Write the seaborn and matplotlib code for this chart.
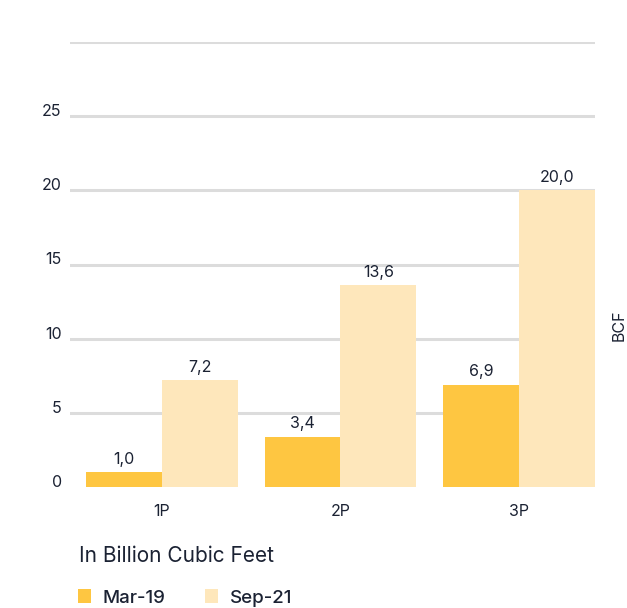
import matplotlib
matplotlib.use("Agg")
import matplotlib.pyplot as plt
from matplotlib.patches import Rectangle
import seaborn as sns
import pandas as pd

categories = ["1P", "2P", "3P"]
periods = ["Mar-19", "Sep-21"]
mar19 = [1.0, 3.4, 6.9]
sep21 = [7.2, 13.6, 20.0]
y_ticks = [0, 5, 10, 15, 20, 25]
colors = ["#FEC641", "#FEE7BB"]

sns.set_theme(style="white")
plt.rcParams["font.family"] = ["Inter", "DejaVu Sans"]

text_color = "#1B2233"
grid_color = "#DCDCDC"

df = pd.DataFrame({
    "category": categories * 2,
    "period": [periods[0]] * 3 + [periods[1]] * 3,
    "value": mar19 + sep21,
})

fig = plt.figure(figsize=(6.27, 6.08), dpi=100)
ax = fig.add_axes([70 / 627, 1 - 487 / 608, 525 / 627, 445 / 608])

sns.barplot(data=df, x="category", y="value", hue="period", order=categories,
            hue_order=periods, palette=colors, width=0.85, errorbar=None,
            saturation=1, linewidth=0, legend=False, ax=ax)

ax.set_ylim(0, 30)
ax.set_xlim(-0.515, 2.426)
for v in [5, 10, 15, 20, 25, 30]:
    ax.axhline(v, color=grid_color, linewidth=2.2, zorder=0)
ax.set_axisbelow(True)

for container in ax.containers:
    labels = [f"{b.get_height():.1f}".replace(".", ",") for b in container]
    ax.bar_label(container, labels=labels, padding=4, fontsize=11.5,
                 color=text_color)

ax.set_yticks(y_ticks)
ax.set_yticklabels([str(t) for t in y_ticks])
for lbl in ax.get_yticklabels():
    lbl.set_verticalalignment("baseline")
ax.tick_params(axis="y", length=0, pad=6, labelsize=11.5, labelcolor=text_color)
ax.tick_params(axis="x", length=0, pad=12, labelsize=11.5, labelcolor=text_color)
ax.set_xlabel("")
ax.set_ylabel("")
for s in ax.spines.values():
    s.set_visible(False)

fig.text(612 / 627, 1 - 325 / 608, "BCF", rotation=90, ha="left", va="center",
         fontsize=11.5, color=text_color)

fig.text(79 / 627, 1 - 556 / 608, "In Billion Cubic Feet", ha="left",
         va="center", fontsize=15, color=text_color)

handles = [Rectangle((0, 0), 1, 1, facecolor=c, edgecolor="none") for c in colors]
fig.legend(handles, periods, loc="center left",
           bbox_to_anchor=(61 / 627, 1 - 598 / 608), ncol=2, frameon=False,
           handlelength=0.7, handleheight=0.7, handletextpad=0.64,
           columnspacing=2.1, prop={"size": 13.5, "weight": "medium"},
           labelcolor=text_color)

fig.savefig("out.png", dpi=100)
